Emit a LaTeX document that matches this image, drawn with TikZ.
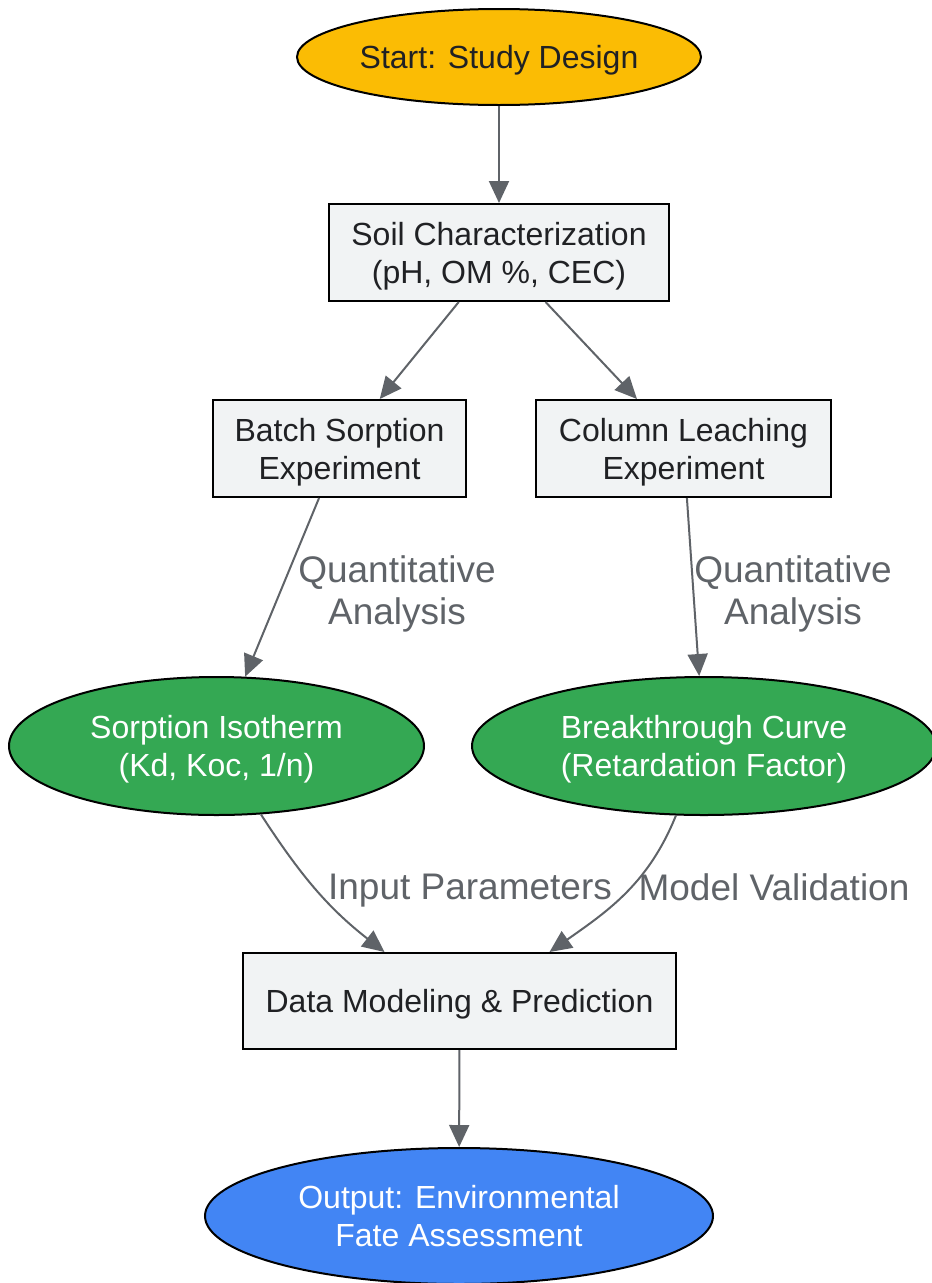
\documentclass[tikz,border=0pt]{standalone}
\usepackage{fontspec}
\setmainfont{Liberation Sans}
\usetikzlibrary{shapes.geometric,arrows.meta}

\definecolor{startyellow}{HTML}{FBBC04}
\definecolor{resultgreen}{HTML}{34A853}
\definecolor{endblue}{HTML}{4285F4}
\definecolor{boxgray}{HTML}{F1F3F4}
\definecolor{textdark}{HTML}{202124}
\definecolor{edgegray}{HTML}{5F6368}

\tikzset{
  flownode/.style = {align=center, inner sep=0pt, text centered, draw=black,
    line width=2pt, text=textdark, text depth=0pt, font=\fontsize{32}{38}\selectfont},
  startnode/.style = {flownode, ellipse, fill=startyellow},
  stepbox/.style = {flownode, rectangle, fill=boxgray},
  resultnode/.style = {flownode, ellipse, fill=resultgreen, text=white},
  endnode/.style = {flownode, ellipse, fill=endblue, text=white},
  flowarrow/.style = {draw=edgegray, line width=2pt,
    -{Triangle[length=22pt,width=20pt]}},
  edgelabel/.style = {align=center, inner sep=0pt, text=edgegray, text depth=0pt,
    font=\fontsize{37}{42}\selectfont}
}

\begin{document}
\begin{tikzpicture}[x=1pt, y=-1pt]
\useasboundingbox (0,0) rectangle (932,1283);

\node [startnode, minimum width=404pt, minimum height=96pt] (start) at (499,57) {Start: Study Design};
\node [stepbox, minimum width=340pt, minimum height=97pt] (soil) at (499,252.5) {Soil Characterization\\(pH, OM \%, CEC)};
\node [stepbox, minimum width=253pt, minimum height=97pt] (batch) at (339.5,448.5) {Batch Sorption\\Experiment};
\node [stepbox, minimum width=295pt, minimum height=97pt] (column) at (683.5,448.5) {Column Leaching\\Experiment};
\node [resultnode, minimum width=415pt, minimum height=138pt] (isotherm) at (216.5,746) {Sorption Isotherm\\(Kd, Koc, 1/n)};
\node [resultnode, minimum width=464pt, minimum height=138pt] (breakthrough) at (704,746) {Breakthrough Curve\\(Retardation Factor)};
\node [stepbox, minimum width=433pt, minimum height=96pt] (modeling) at (459.5,1001) {Data Modeling \& Prediction};
\node [endnode, minimum width=508pt, minimum height=136pt] (output) at (459,1216) {Output: Environmental\\Fate Assessment};

\node [edgelabel] (batchlabel) at (397,590) {Quantitative\\Analysis};
\node [edgelabel] (columnlabel) at (793,590) {Quantitative\\Analysis};
\node [edgelabel] (inputlabel) at (470,887) {Input Parameters};
\node [edgelabel] (validlabel) at (774,887) {Model Validation};

\draw [flowarrow] (start) -- (soil);
\draw [flowarrow] (soil) -- (batch);
\draw [flowarrow] (soil) -- (column);
\draw [flowarrow] (batch) -- (isotherm);
\draw [flowarrow] (column) -- (breakthrough);
\draw [flowarrow] (isotherm) to[out=-57, in=142] ([xshift=-75pt]modeling.north);
\draw [flowarrow] (breakthrough) to[out=-112, in=35] ([xshift=90pt]modeling.north);
\draw [flowarrow] (modeling) -- (output);
\end{tikzpicture}
\end{document}
